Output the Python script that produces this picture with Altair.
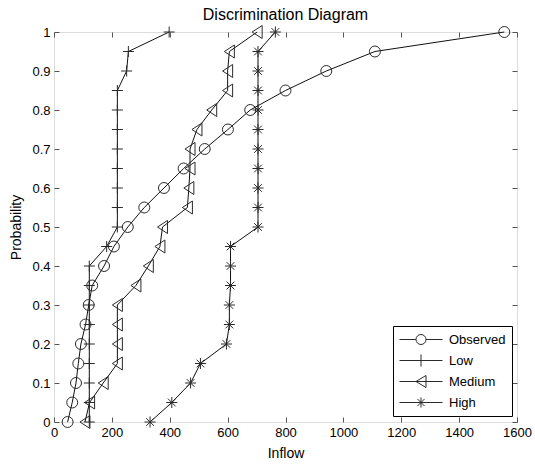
import altair as alt
import pandas as pd

# ---- data ----
prob = [0.0, 0.05, 0.1, 0.15, 0.2, 0.25, 0.3, 0.35, 0.4, 0.45, 0.5,
        0.55, 0.6, 0.65, 0.7, 0.75, 0.8, 0.85, 0.9, 0.95, 1.0]

observed = [47, 63, 76, 84, 93, 109, 120, 132, 173, 207, 255,
            312, 380, 448, 521, 601, 678, 800, 941, 1109, 1556]
low = [122, 122, 122, 122, 122, 122, 122, 122, 122, 182, 219,
       219, 219, 219, 219, 219, 219, 219, 251, 257, 398]
medium = [107, 123, 170, 219, 219, 219, 219, 283, 326, 366, 375,
          461, 466, 470, 470, 494, 545, 600, 600, 606, 702]
high = [332, 407, 472, 506, 596, 606, 606, 610, 610, 610, 705,
        705, 705, 705, 705, 705, 705, 705, 705, 705, 765]

series_names = ["Observed", "Low", "Medium", "High"]
series_values = [observed, low, medium, high]

x_ticks = [0, 200, 400, 600, 800, 1000, 1200, 1400, 1600]
y_ticks = [0, 0.1, 0.2, 0.3, 0.4, 0.5, 0.6, 0.7, 0.8, 0.9, 1.0]

rows = []
for name, vals in zip(series_names, series_values):
    for p, v in zip(prob, vals):
        rows.append({"Series": name, "Inflow": v, "Probability": p})
df = pd.DataFrame(rows)

# ---- marker shapes (MATLAB-like) ----
plot_shapes = {
    "Observed": ("circle", 120),
    "Low": ("M-1,0H1M0,-1V1", 121),
    "Medium": ("M0.77,-1L-0.77,0L0.77,1Z", 169),
    "High": ("M-1,0H1M0,-1V1M-0.7,-0.7L0.7,0.7M-0.7,0.7L0.7,-0.7", 121),
}
legend_paths = [
    "M-1,0H-0.233M0.233,0H1M0.233,0A0.233,0.233 0 1 1 -0.233,0A0.233,0.233 0 1 1 0.233,0",
    "M-1,0H1M0,-0.28V0.28",
    "M-1,0H1M0.233,-0.28L-0.233,0L0.233,0.28Z",
    "M-1,0H1M0,-0.233V0.233M-0.165,-0.165L0.165,0.165M-0.165,0.165L0.165,-0.165",
]

FONT = "Liberation Sans"
x_scale = alt.Scale(domain=[0, 1600], nice=False, zero=False)
y_scale = alt.Scale(domain=[0, 1], nice=False, zero=False)

tick_color = "#555"

x_main_axis = alt.Axis(values=x_ticks, format="d", title="Inflow", offset=-5, tickSize=5,
                       domain=False, grid=False, labelPadding=4, titlePadding=7,
                       tickColor=tick_color, labelColor="black", titleColor="black",
                       labelFont=FONT, titleFont=FONT, labelFontSize=13, titleFontSize=14,
                       titleFontWeight="normal", labelFlush=False, labelOverlap=False)
y_main_axis = alt.Axis(values=y_ticks, format="~g", title="Probability", offset=-5, tickSize=5,
                       domain=False, grid=False, labelPadding=4, titlePadding=8,
                       tickColor=tick_color, labelColor="black", titleColor="black",
                       labelFont=FONT, titleFont=FONT, labelFontSize=13, titleFontSize=14,
                       titleFontWeight="normal", labelFlush=False, labelOverlap=False)
x_top_axis = alt.Axis(values=x_ticks, orient="top", offset=-5, tickSize=5, labels=False,
                      domain=False, grid=False, title=None, tickColor=tick_color)
y_right_axis = alt.Axis(values=y_ticks, orient="right", offset=-5, tickSize=5, labels=False,
                        domain=False, grid=False, title=None, tickColor=tick_color)

lines = alt.Chart(df).mark_line(color="#111", strokeWidth=1).encode(
    x=alt.X("Inflow:Q", scale=x_scale, axis=x_main_axis),
    y=alt.Y("Probability:Q", scale=y_scale, axis=y_main_axis),
    detail="Series:N",
    order="Probability:Q",
)

point_layers = []
for i, name in enumerate(series_names):
    shape, size = plot_shapes[name]
    xa = x_top_axis if i == 0 else None
    ya = y_right_axis if i == 0 else None
    point_layers.append(
        alt.Chart(df).transform_filter(alt.datum.Series == name).mark_point(
            shape=shape, size=size, filled=False, color="#2a2a2a", strokeWidth=1, opacity=1
        ).encode(
            x=alt.X("Inflow:Q", scale=x_scale, axis=xa),
            y=alt.Y("Probability:Q", scale=y_scale, axis=ya),
        )
    )

legend_layer = alt.Chart(df).mark_point(opacity=0, filled=False, color="#2a2a2a").encode(
    x=alt.X("Inflow:Q", scale=x_scale, axis=None),
    y=alt.Y("Probability:Q", scale=y_scale, axis=None),
    shape=alt.Shape("Series:N", scale=alt.Scale(domain=series_names, range=legend_paths),
                    legend=alt.Legend(title=None, orient="none", legendX=339, legendY=294,
                                      padding=6, strokeColor="black", fillColor="white",
                                      symbolSize=1849, symbolStrokeWidth=1, clipHeight=15,
                                      symbolStrokeColor="#2a2a2a", symbolFillColor="transparent",
                                      symbolOpacity=1, labelFont=FONT, labelFontSize=13,
                                      labelColor="black", labelOffset=6, rowPadding=6)),
)

chart = alt.layer(lines, *point_layers, legend_layer).resolve_axis(
    x="independent", y="independent"
).properties(
    width=463,
    height=390,
    title=alt.TitleParams("Discrimination Diagram", font=FONT, fontSize=16,
                          fontWeight="normal", color="black", anchor="middle", offset=1),
    autosize=alt.AutoSizeParams(type="none"),
    padding={"left": 54, "top": 32, "right": 18, "bottom": 43},
).configure_view(
    stroke="#555", strokeWidth=1, strokeDash=[7, 2, 2, 2]
).configure(background="white")

chart.save("out.html", embed_options={"renderer": "svg", "actions": False})
